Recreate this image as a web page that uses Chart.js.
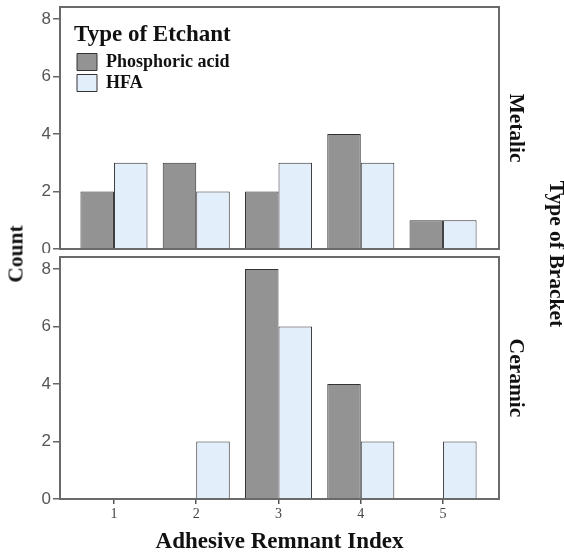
<!DOCTYPE html>
<html>
<head>
<meta charset="utf-8">
<script src="https://cdn.jsdelivr.net/npm/chart.js@4/dist/chart.umd.min.js"></script>
<style>
  html, body { margin: 0; padding: 0; background: #fff; }
  #wrap { position: relative; width: 564px; height: 555px; overflow: hidden; background: #fff; }
  canvas { position: absolute; left: 0; }
  .lbl { position: absolute; font-family: 'Liberation Serif', 'Times New Roman', serif; font-weight: bold; font-size: 21.5px; color: #111; white-space: nowrap; transform-origin: center center; }
</style>
</head>
<body>
<div id="wrap">
  <canvas id="top" width="564" height="253" style="top:0"></canvas>
  <canvas id="bot" width="564" height="305" style="top:250px"></canvas>
  <div class="lbl" id="count" style="left:16px;top:254px;transform:translate(-50%,-50%) rotate(-90deg)">Count</div>
  <div class="lbl" style="left:516px;top:128px;transform:translate(-50%,-50%) rotate(90deg)">Metalic</div>
  <div class="lbl" style="left:516px;top:378px;transform:translate(-50%,-50%) rotate(90deg)">Ceramic</div>
  <div class="lbl" style="left:556px;top:254px;transform:translate(-50%,-50%) rotate(90deg)">Type of Bracket</div>
</div>
<script>
// ---- data ----
const categories = [1, 2, 3, 4, 5];
const tickLabels = ['1', '2', '3', '4', '5'];
const seriesNames = ['Phosphoric acid', 'HFA'];
const metalicPhosphoric = [2, 3, 2, 4, 1];
const metalicHFA = [3, 2, 3, 3, 1];
const ceramicPhosphoric = [0, 0, 8, 4, 0];
const ceramicHFA = [0, 2, 6, 2, 2];
const yTicks = [0, 2, 4, 6, 8];

// ---- styles ----
const darkFill = '#939393';
const lightFill = '#e2eefa';
const barBorder = '#333333';
const frameColor = '#6a6a6a';
const serif = "'Liberation Serif', 'Times New Roman', serif";
const sans = "'Liberation Sans', Arial, sans-serif";

function pts(vals) { return categories.map((c, i) => ({ x: c, y: vals[i] })); }

const framePlugin = {
  id: 'frame',
  afterLayout(chart) {
    const lg = chart.legend;
    if (lg && lg.options && lg.options.display) {
      const dx = 14, dy = 16;
      lg.left += dx; lg.right += dx; lg.top += dy; lg.bottom += dy;
    }
  },
  afterDatasetsDraw(chart) {
    const a = chart.chartArea, ctx = chart.ctx;
    ctx.save();
    ctx.strokeStyle = frameColor;
    ctx.lineWidth = 2;
    ctx.strokeRect(a.left, a.top, a.right - a.left, a.bottom - a.top);
    ctx.restore();
  }
};

function noPad(s) { s.paddingTop = 0; s.paddingBottom = 0; s.paddingLeft = 0; s.paddingRight = 0; }

function makeConfig(phos, hfa, isBottom) {
  return {
    type: 'bar',
    data: {
      datasets: [
        { label: seriesNames[0], data: pts(phos), backgroundColor: darkFill, borderColor: barBorder, borderWidth: 1 },
        { label: seriesNames[1], data: pts(hfa), backgroundColor: lightFill, borderColor: barBorder, borderWidth: 1 }
      ]
    },
    options: {
      responsive: false,
      animation: false,
      devicePixelRatio: 1,
      categoryPercentage: 0.815,
      barPercentage: 1.0,
      layout: { padding: { left: 0, top: 7, right: 65, bottom: 0 } },
      plugins: {
        tooltip: { enabled: false },
        legend: isBottom ? { display: false } : {
          display: true,
          position: 'chartArea',
          align: 'start',
          title: {
            display: true, text: 'Type of Etchant', position: 'start', color: '#111',
            font: { family: serif, size: 23, weight: 'bold', lineHeight: 1.0 },
            padding: { top: 8, bottom: 3 }
          },
          labels: {
            boxWidth: 20, boxHeight: 17, padding: 3, color: '#111',
            font: { family: serif, size: 18, weight: 'bold', lineHeight: 1.0 }
          }
        }
      },
      scales: {
        x: {
          type: 'linear',
          offset: false,
          min: 0.344, max: 5.68,
          afterBuildTicks(s) { s.ticks = categories.map(v => ({ value: v })); },
          afterFit(s) { s.height = isBottom ? 56 : 4; noPad(s); },
          grid: { display: isBottom, offset: false, drawOnChartArea: false, drawTicks: true, tickLength: 5, color: '#555', lineWidth: 1.5 },
          border: { display: false },
          ticks: {
            display: isBottom, padding: 2, color: '#444',
            font: { family: serif, size: 14 },
            callback: (v) => tickLabels[categories.indexOf(v)] ?? ''
          },
          title: {
            display: isBottom, text: 'Adhesive Remnant Index', color: '#111',
            font: { family: serif, size: 23, weight: 'bold', lineHeight: 1.0 },
            padding: { top: 0, bottom: 1 }
          }
        },
        y: {
          min: 0, max: 8.42,
          afterBuildTicks(s) { s.ticks = yTicks.map(v => ({ value: v })); },
          afterFit(s) { s.width = 60; noPad(s); },
          grid: { display: true, drawOnChartArea: false, drawTicks: true, tickLength: 7, color: '#666', lineWidth: 1.5 },
          border: { display: false },
          ticks: { padding: 2, color: '#555', font: { family: sans, size: 17 } }
        }
      }
    },
    plugins: [framePlugin]
  };
}

new Chart(document.getElementById('top'), makeConfig(metalicPhosphoric, metalicHFA, false));
new Chart(document.getElementById('bot'), makeConfig(ceramicPhosphoric, ceramicHFA, true));
</script>
</body>
</html>
